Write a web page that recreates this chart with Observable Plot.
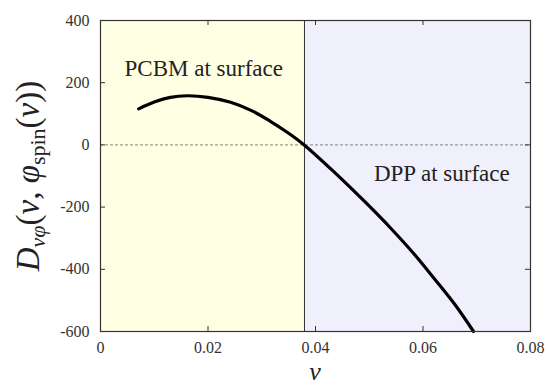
<!DOCTYPE html>
<html>
<head>
<meta charset="utf-8">
<script src="https://cdn.jsdelivr.net/npm/d3@7"></script>
<script src="https://cdn.jsdelivr.net/npm/@observablehq/plot@0.6"></script>
<style>
  html, body { margin: 0; padding: 0; background: white; }
  #chart { width: 548px; height: 385px; }
  #chart svg text, #chart svg tspan { font-family: "Liberation Serif", "DejaVu Serif", serif !important; }
</style>
</head>
<body>
<div id="chart"></div>
<script>
// Data
const nu = [0.0071, 0.0100, 0.0130, 0.0161, 0.0200, 0.0242, 0.0280, 0.0316, 0.0348, 0.0379, 0.0434, 0.0496, 0.0540, 0.0583, 0.0620, 0.0660, 0.0694];
const D = [116, 138, 153, 158, 153, 137, 111, 76, 40, 0, -86, -190, -268, -350, -428, -515, -600];
const regionNames = ["PCBM at surface", "DPP at surface"];
const regionStart = [0, 0.03795];
const regionEnd = [0.03795, 0.08];
const labelX = [0.0192, 0.0635];
const labelY = [246, -93];
const boundary = [0.03795];
const xTicks = [0, 0.02, 0.04, 0.06, 0.08];
const yTicks = [-600, -400, -200, 0, 200, 400];

const FONT = "Liberation Serif";
const curve = nu.map((x, i) => ({x, y: D[i]}));
const regions = regionNames.map((name, i) => ({name, x1: regionStart[i], x2: regionEnd[i], lx: labelX[i], ly: labelY[i]}));
const innerX = xTicks.slice(1, -1);
const innerY = yTicks.slice(1, -1);

const chart = Plot.plot({
  width: 548,
  height: 385,
  marginLeft: 100,
  marginRight: 18,
  marginTop: 20,
  marginBottom: 54,
  style: {fontSize: "16px", color: "#333", background: "white", fontFamily: FONT},
  x: {domain: [0, 0.08]},
  y: {domain: [-600, 400]},
  color: {domain: regionNames, range: ["#ffffe3", "#f0f0fd"]},
  marks: [
    Plot.rect(regions, {x1: "x1", x2: "x2", y1: -600, y2: 400, fill: "name"}),
    Plot.ruleY([0], {stroke: "#666", strokeWidth: 0.8, strokeDasharray: "3,2"}),
    Plot.ruleX(boundary, {stroke: "#333", strokeWidth: 1}),
    Plot.ruleX(innerX, {stroke: "#333", insetTop: 306}),
    Plot.ruleX(innerX, {stroke: "#333", insetBottom: 306}),
    Plot.ruleY(innerY, {stroke: "#333", insetRight: 425}),
    Plot.ruleY(innerY, {stroke: "#333", insetLeft: 425}),
    Plot.line(curve, {x: "x", y: "y", curve: "catmull-rom", stroke: "black", strokeWidth: 3.2}),
    Plot.text(regions, {x: "lx", y: "ly", text: "name", fontSize: 23, fontFamily: FONT, fill: "#222"}),
    Plot.frame({stroke: "#333", strokeWidth: 1.2}),
    Plot.axisX(xTicks, {tickSize: 0, tickPadding: 10, label: null, tickFormat: d => d === 0 ? "0" : d.toFixed(2), fontSize: 16, fontFamily: FONT}),
    Plot.axisY(yTicks, {tickSize: 0, tickPadding: 11, label: null, tickFormat: d => String(d), fontSize: 16, fontFamily: FONT})
  ]
});

document.getElementById("chart").appendChild(chart);

const svg = d3.select(chart);
// x-axis label
svg.append("text")
  .attr("x", 315).attr("y", 380)
  .attr("text-anchor", "middle")
  .attr("font-size", 26)
  .attr("font-style", "italic")
  .attr("fill", "#222")
  .text("ν");

// Rich y-axis label with subscripts
const t = svg.append("text")
  .attr("transform", "translate(39,176) rotate(-90)")
  .attr("text-anchor", "middle")
  .attr("font-size", 33)
  .attr("fill", "#222");
t.append("tspan").attr("font-style", "italic").text("D");
t.append("tspan").attr("font-style", "italic").attr("font-size", 22).attr("dy", 6).text("νφ");
t.append("tspan").attr("dy", -6).text("(");
t.append("tspan").attr("font-style", "italic").text("ν");
t.append("tspan").text(", ");
t.append("tspan").attr("font-style", "italic").text("φ");
t.append("tspan").attr("font-size", 22).attr("dy", 6).text("spin");
t.append("tspan").attr("dy", -6).text("(");
t.append("tspan").attr("font-style", "italic").text("ν");
t.append("tspan").text("))");

svg.selectAll("text, tspan").each(function() {
  this.setAttribute("font-family", FONT);
  this.style.setProperty("font-family", "\"" + FONT + "\", serif", "important");
});
chart.style.setProperty("font-family", "\"" + FONT + "\", serif", "important");
</script>
</body>
</html>
